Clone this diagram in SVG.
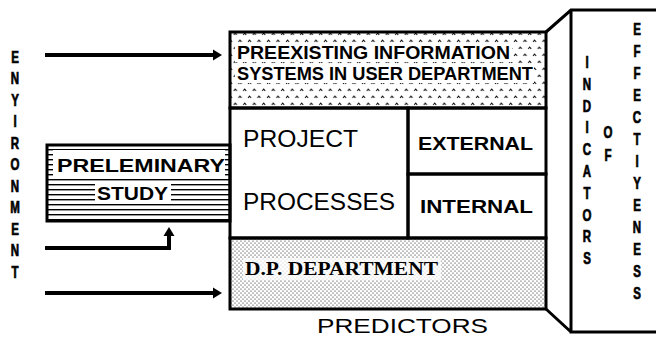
<svg xmlns="http://www.w3.org/2000/svg" width="656" height="340" viewBox="0 0 656 340">
<defs>
<style>
.ln{fill:none;stroke:#000;stroke-width:3}
.arr{fill:none;stroke:#000;stroke-width:4}
.b{font-family:"Liberation Sans",Arial,sans-serif;font-weight:bold;fill:#000}
.r{font-family:"Liberation Sans",Arial,sans-serif;font-weight:normal;fill:#000}
.s{font-family:"Liberation Serif","Times New Roman",serif;font-weight:bold;fill:#000}
.v{font-family:"Liberation Sans",Arial,sans-serif;font-weight:bold;font-size:16px;fill:#000;stroke:#000;stroke-width:0.7;text-anchor:middle}
</style>
<pattern id="caret" patternUnits="userSpaceOnUse" x="0" y="37" width="9.5" height="14">
<path d="M1 5 L2.5 3 L4 5 M5.75 12 L7.25 10 L8.75 12" fill="none" stroke="#000" stroke-width="1"/>
</pattern>
<pattern id="stip" patternUnits="userSpaceOnUse" width="4" height="4">
<circle cx="1" cy="1" r="0.55" fill="#000"/>
<circle cx="3" cy="3" r="0.55" fill="#000"/>
</pattern>
<pattern id="hlines" patternUnits="userSpaceOnUse" x="0" y="147" width="10" height="5">
<rect x="0" y="2" width="10" height="1.4" fill="#000"/>
</pattern>
</defs>
<rect width="656" height="340" fill="#fff"/>

<g id="environment">
<g transform="translate(15 0) scale(0.72 1)">
<text class="v" x="0" y="63">E</text>
<text class="v" x="0" y="84.5">N</text>
<text class="v" x="0" y="106">Y</text>
<text class="v" x="0" y="127.5">I</text>
<text class="v" x="0" y="149">R</text>
<text class="v" x="0" y="170.5">O</text>
<text class="v" x="0" y="192">N</text>
<text class="v" x="0" y="213.5">M</text>
<text class="v" x="0" y="235">E</text>
<text class="v" x="0" y="256.5">N</text>
<text class="v" x="0" y="278">T</text>
</g>
</g>

<g id="preliminary-study">
<rect x="47" y="145" width="183" height="76" fill="url(#hlines)"/>
<rect x="53" y="150" width="172" height="26" fill="#fff"/>
<rect x="95" y="181" width="76" height="22" fill="#fff"/>
<rect x="47" y="145" width="183" height="76" class="ln"/>
<text class="b" x="57" y="172" font-size="19" textLength="168" lengthAdjust="spacingAndGlyphs">PRELEMINARY</text>
<text class="b" x="97" y="200" font-size="19" textLength="71" lengthAdjust="spacingAndGlyphs">STUDY</text>
</g>

<g id="preexisting">
<rect x="230" y="32" width="316" height="76" fill="url(#caret)"/>
<rect x="235" y="44" width="277" height="18" fill="#fff"/>
<rect x="235" y="65" width="299" height="18" fill="#fff"/>
<rect x="230" y="32" width="316" height="76" class="ln"/>
<text class="b" x="237" y="59" font-size="18" textLength="273" lengthAdjust="spacingAndGlyphs">PREEXISTING INFORMATION</text>
<text class="b" x="237" y="80" font-size="18" textLength="296" lengthAdjust="spacingAndGlyphs">SYSTEMS IN USER DEPARTMENT</text>
</g>

<g id="project-processes">
<rect x="230" y="108" width="178" height="130" class="ln" fill="#fff"/>
<text class="r" x="243" y="147" font-size="24" textLength="115" lengthAdjust="spacingAndGlyphs">PROJECT</text>
<text class="r" x="243" y="210" font-size="24" textLength="152" lengthAdjust="spacingAndGlyphs">PROCESSES</text>
</g>

<g id="external">
<rect x="408" y="108" width="138" height="66" class="ln" fill="#fff"/>
<text class="b" x="418" y="150" font-size="18" textLength="115" lengthAdjust="spacingAndGlyphs">EXTERNAL</text>
</g>

<g id="internal">
<rect x="408" y="174" width="138" height="64" class="ln" fill="#fff"/>
<text class="b" x="420" y="213" font-size="18" textLength="113" lengthAdjust="spacingAndGlyphs">INTERNAL</text>
</g>

<g id="dp-department">
<rect x="230" y="238" width="316" height="71" fill="url(#stip)"/>
<rect x="243" y="258" width="198" height="22" fill="#fff" opacity="0.75"/>
<rect x="230" y="238" width="316" height="71" class="ln"/>
<text class="s" x="245" y="275" font-size="18" textLength="193" lengthAdjust="spacingAndGlyphs">D.P. DEPARTMENT</text>
</g>

<g id="predictors">
<text class="r" x="317" y="333" font-size="21" textLength="171" lengthAdjust="spacingAndGlyphs">PREDICTORS</text>
</g>

<g id="indicators">
<path class="ln" d="M546 32 L571 10 L656 10 M571 10 L571 332 L656 332 M546 309 L571 332"/>
<g transform="translate(587 0) scale(0.72 1)">
<text class="v" x="0" y="68">I</text>
<text class="v" x="0" y="89.8">N</text>
<text class="v" x="0" y="111.6">D</text>
<text class="v" x="0" y="133.4">I</text>
<text class="v" x="0" y="155.2">C</text>
<text class="v" x="0" y="177">A</text>
<text class="v" x="0" y="198.8">T</text>
<text class="v" x="0" y="220.6">O</text>
<text class="v" x="0" y="242.4">R</text>
<text class="v" x="0" y="264.2">S</text>
</g>
<g transform="translate(608 0) scale(0.72 1)">
<text class="v" x="0" y="138">O</text>
<text class="v" x="0" y="161">F</text>
</g>
<g transform="translate(637 0) scale(0.72 1)">
<text class="v" x="0" y="35">E</text>
<text class="v" x="0" y="57">F</text>
<text class="v" x="0" y="79">F</text>
<text class="v" x="0" y="101">E</text>
<text class="v" x="0" y="123">C</text>
<text class="v" x="0" y="145">T</text>
<text class="v" x="0" y="167">I</text>
<text class="v" x="0" y="189">Y</text>
<text class="v" x="0" y="211">E</text>
<text class="v" x="0" y="233">N</text>
<text class="v" x="0" y="255">E</text>
<text class="v" x="0" y="277">S</text>
<text class="v" x="0" y="299">S</text>
</g>
</g>

<g id="connectors">
<line class="arr" x1="45" y1="55" x2="214" y2="55"/>
<polygon points="213,49.5 222,55 213,60.5" fill="#000"/>
<polyline class="arr" points="45,248 169,248 169,234"/>
<polygon points="163.5,236 169,227 174.5,236" fill="#000"/>
<line class="arr" x1="45" y1="293" x2="214" y2="293"/>
<polygon points="213,287.5 222,293 213,298.5" fill="#000"/>
</g>
</svg>
